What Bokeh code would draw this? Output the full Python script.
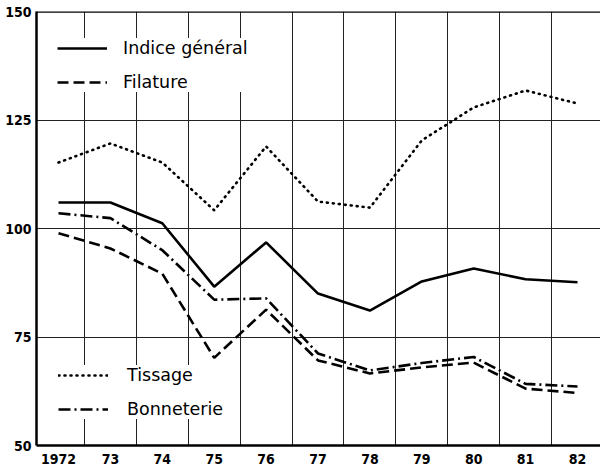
from bokeh.plotting import figure
from bokeh.models import Range1d, FixedTicker, Span, Legend, LegendItem
from bokeh.embed import file_html
from bokeh.resources import INLINE

years = [1972, 1973, 1974, 1975, 1976, 1977, 1978, 1979, 1980, 1981, 1982]
year_labels = ["1972", "73", "74", "75", "76", "77", "78", "79", "80", "81", "82"]
indice_general = [106.0, 106.0, 101.2, 86.6, 96.8, 85.0, 81.1, 87.8, 90.8, 88.3, 87.6]
filature = [98.9, 95.4, 89.6, 70.2, 81.3, 69.6, 66.6, 68.0, 69.1, 63.1, 62.1]
tissage = [115.2, 119.6, 115.2, 104.2, 118.9, 106.2, 104.8, 120.3, 127.9, 131.8, 128.8]
bonneterie = [103.5, 102.4, 95.0, 83.6, 83.9, 71.2, 67.3, 69.0, 70.4, 64.2, 63.6]
y_ticks = [50, 75, 100, 125, 150]
grid_x = [1972.5, 1973.5, 1974.5, 1975.5, 1976.5, 1977.5, 1978.5, 1979.5, 1980.5, 1981.5]

p = figure(width=600, height=472, output_backend="svg", toolbar_location=None,
           x_range=Range1d(1971.576, 1982.443), y_range=Range1d(50, 150),
           min_border_left=36, min_border_right=0, min_border_top=11, min_border_bottom=27)
p.outline_line_color = None
p.background_fill_color = "white"

tick_font = "DejaVu Sans Condensed"

for ax in (p.xaxis, p.yaxis):
    ax.axis_line_width = 2.5
    ax.axis_line_color = "black"
    ax.major_tick_line_color = None
    ax.minor_tick_line_color = None
    ax.major_tick_out = 0
    ax.major_tick_in = 0
    ax.minor_tick_out = 0
    ax.minor_tick_in = 0
    ax.major_label_text_font = tick_font
    ax.major_label_text_font_style = "bold"
    ax.major_label_text_font_size = "14px"
    ax.major_label_text_color = "black"

p.xaxis.ticker = FixedTicker(ticks=years)
p.xaxis.major_label_overrides = {y: l for y, l in zip(years, year_labels)}
p.xaxis.major_label_standoff = 8
p.yaxis.ticker = FixedTicker(ticks=y_ticks)
p.yaxis.major_label_standoff = 5

p.xgrid.ticker = FixedTicker(ticks=grid_x)
p.xgrid.grid_line_color = "#222222"
p.xgrid.grid_line_width = 1
p.ygrid.ticker = FixedTicker(ticks=[75, 100, 125])
p.ygrid.grid_line_color = "#222222"
p.ygrid.grid_line_width = 1

p.add_layout(Span(location=150, dimension="width", line_color="black", line_width=2.5))

r_ig = p.line(years, indice_general, line_color="black", line_width=2.6)
r_fi = p.line(years, filature, line_color="black", line_width=2.6, line_dash="11 5")
r_ti = p.line(years, tissage, line_color="black", line_width=2.6, line_dash="1 5", line_cap="round")
r_bo = p.line(years, bonneterie, line_color="black", line_width=2.6, line_dash="12 4 2 4")

def mk_legend(items, loc, pad, standoff):
    return Legend(items=items, location=loc, padding=pad, margin=0,
                  border_line_color=None, background_fill_color="white", background_fill_alpha=1.0,
                  glyph_width=50, glyph_height=20, label_height=20, label_standoff=standoff, spacing=14,
                  label_text_font="DejaVu Sans", label_text_font_size="17.5px", label_text_color="black")

lg1 = mk_legend([LegendItem(label="Indice général", renderers=[r_ig]),
                 LegendItem(label="Filature", renderers=[r_fi])], (21, 353), 12, 16)
lg2 = mk_legend([LegendItem(label="Tissage", renderers=[r_ti]),
                 LegendItem(label="Bonneterie", renderers=[r_bo])], (22, 26), 8, 19)
p.add_layout(lg1, "center")
p.add_layout(lg2, "center")

open("out.html", "w").write(file_html(p, INLINE))
